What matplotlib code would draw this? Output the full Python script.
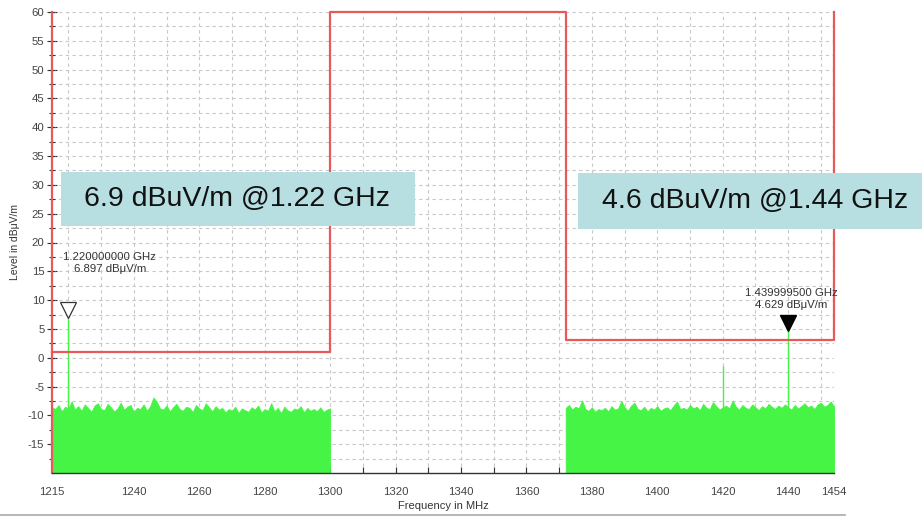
import numpy as np
import matplotlib
matplotlib.use("Agg")
import matplotlib.pyplot as plt
import matplotlib.patches as patches
from matplotlib.lines import Line2D
from matplotlib.transforms import offset_copy

plt.rcParams['font.family'] = ['Liberation Sans', 'DejaVu Sans']
plt.rcParams['axes.unicode_minus'] = False

# measured noise floor, 1 MHz steps
band1_start = 1215
band1_level = [-8.6, -8.9, -8.2, -9.3, -8.5, -8.8, -7.6, -9.0, -8.4, -9.2,
               -8.1, -8.7, -9.4, -8.3, -7.9, -8.9, -9.1, -8.0, -8.6, -9.3,
               -8.8, -7.8, -9.0, -8.5, -8.2, -9.4, -8.7, -8.9, -8.1, -9.2,
               -8.4, -6.9, -7.6, -8.8, -9.0, -8.3, -9.3, -8.6, -8.0, -8.9,
               -9.2, -8.5, -8.7, -9.4, -8.2, -8.8, -9.1, -7.9, -8.6, -9.3,
               -8.4, -9.0, -8.7, -9.5, -8.9, -9.2, -8.5, -9.6, -8.8, -9.1,
               -9.4, -8.6, -9.0, -8.3, -9.5, -8.9, -9.2, -7.9, -9.3, -8.7,
               -9.6, -8.5, -9.1, -9.4, -8.8, -9.0, -8.4, -9.5, -8.7, -9.2,
               -8.9, -9.3, -8.6, -9.4, -9.0, -8.8]
band2_start = 1372
band2_level = [-8.7, -8.2, -9.0, -8.5, -8.8, -7.4, -8.9, -9.2, -8.6, -9.4,
               -8.9, -9.1, -8.7, -9.3, -8.4, -9.0, -8.8, -7.5, -8.6, -9.2,
               -8.3, -7.8, -8.9, -9.1, -8.5, -9.3, -8.7, -9.0, -8.4, -9.2,
               -8.8, -8.6, -9.1, -8.3, -7.6, -8.9, -8.7, -9.0, -8.2, -8.8,
               -8.5, -9.1, -8.0, -8.7, -8.9, -7.7, -8.4, -9.0, -8.6, -8.3,
               -8.8, -7.4, -8.5, -9.0, -8.2, -8.7, -8.9, -8.1, -8.6, -9.1,
               -8.4, -8.8, -8.0, -8.5, -8.9, -8.3, -8.7, -8.1, -8.6, -9.0,
               -8.2, -8.8, -8.4, -7.9, -8.6, -8.3, -8.9, -8.1, -7.8, -8.5,
               -8.2, -7.6, -8.4]

# limit line
limit_freq = [1215, 1300, 1300, 1372, 1372, 1454, 1454]
limit_level = [1, 1, 60, 60, 3, 3, 60]

# narrow spikes
spike_freq = [1220, 1420, 1440]
spike_level = [6.897, -1.5, 4.629]

# markers
marker_freq = [1220, 1440]
marker_level = [6.897, 4.629]
marker_text = ["1.220000000 GHz\n6.897 dB\u03bcV/m", "1.439999500 GHz\n4.629 dB\u03bcV/m"]
marker_text_pos = [(1232.7, 16.5), (1441.0, 10.2)]

box_text = ["6.9 dBuV/m @1.22 GHz", "4.6 dBuV/m @1.44 GHz"]

xtick_labels = [1215, 1240, 1260, 1280, 1300, 1320, 1340, 1360, 1380, 1400, 1420, 1440, 1454]

green = '#46f446'
red = '#e85a5a'

fig = plt.figure(figsize=(9.22, 5.18), dpi=100)
ax = fig.add_axes([52/922, 1 - 473/518, (834-52)/922, (473-12)/518])
ax.xaxis.remove_overlapping_locs = False
ax.yaxis.remove_overlapping_locs = False

f1 = band1_start + np.arange(len(band1_level))
f2 = band2_start + np.arange(len(band2_level))
ax.fill_between(f1, -20, band1_level, color=green, lw=0.6, zorder=2)
ax.fill_between(f2, -20, band2_level, color=green, lw=0.6, zorder=2)
ax.vlines(spike_freq, -20, spike_level, color=green, lw=1, zorder=2)

ax.plot(limit_freq, limit_level, color=red, lw=1.6, zorder=3, clip_on=False)

# triangles sitting on the peaks
for i, (fx, fy) in enumerate(zip(marker_freq, marker_level)):
    tr = offset_copy(ax.transData, fig=fig, x=0, y=5.5, units='points')
    if i == 0:
        ax.plot(fx, fy, marker='v', ms=11, mfc='white', mec='#333333', mew=0.9, transform=tr, zorder=4)
    else:
        ax.plot(fx, fy, marker='v', ms=11, mfc='black', mec='black', transform=tr, zorder=4)
    tx, ty = marker_text_pos[i]
    ax.text(tx, ty, marker_text[i], ha='center', va='center', fontsize=8.2,
            color='#333333', linespacing=1.25, zorder=4)

ax.set_xlim(1215, 1454)
ax.set_ylim(-20, 60)

ax.set_xticks(xtick_labels)
ax.set_xticks(np.arange(1220, 1451, 10), minor=True)
ax.set_yticks(np.arange(-15, 61, 5))
ax.set_yticks(np.arange(-17.5, 61, 2.5), minor=True)
ax.grid(which='minor', color='#c8c8c8', ls=(0, (3, 3)), lw=0.8)
ax.set_axisbelow(True)

ax.tick_params(axis='x', which='major', length=0, colors='#333333', labelsize=8.2, pad=10)
ax.tick_params(axis='x', which='minor', direction='in', length=4, width=0.8, colors='#333333')
ax.tick_params(axis='y', which='major', direction='inout', length=7, width=0.8,
               colors='#333333', labelsize=8.2, pad=2)
ax.tick_params(axis='y', which='minor', direction='inout', length=5, width=0.8, colors='#333333')
for lab in ax.get_xticklabels() + ax.get_yticklabels():
    lab.set_color('#444444')

for s in ['top', 'right']:
    ax.spines[s].set_visible(False)
ax.spines['left'].set_color(red)
ax.spines['left'].set_linewidth(1.6)
ax.spines['bottom'].set_color('#333333')
ax.spines['bottom'].set_linewidth(1.0)

ax.set_xlabel("Frequency in MHz", fontsize=8, color='#333333', labelpad=3)
ax.set_ylabel("Level in dB\u03bcV/m", fontsize=7.5, color='#333333', labelpad=6)

# callout boxes
box_pix = [(61, 172, 415, 226), (578, 173, 930, 229)]
text_center = [(237, 199), (755, 201)]
for (x0, y0, x1, y1), (cx, cy), t in zip(box_pix, text_center, box_text):
    fig.patches.append(patches.Rectangle((x0/922, 1 - y1/518), (x1-x0)/922, (y1-y0)/518,
                                         transform=fig.transFigure, facecolor='#b7dfe2',
                                         edgecolor='none', zorder=5))
    fig.text(cx/922, 1 - cy/518, t, ha='center', va='center', fontsize=20.5, color='#111111', zorder=6)

fig.add_artist(Line2D([0, 845/922], [1 - 515/518, 1 - 515/518], transform=fig.transFigure,
                      color='#aaaaaa', lw=1.2))

fig.savefig("out.png", dpi=100)
